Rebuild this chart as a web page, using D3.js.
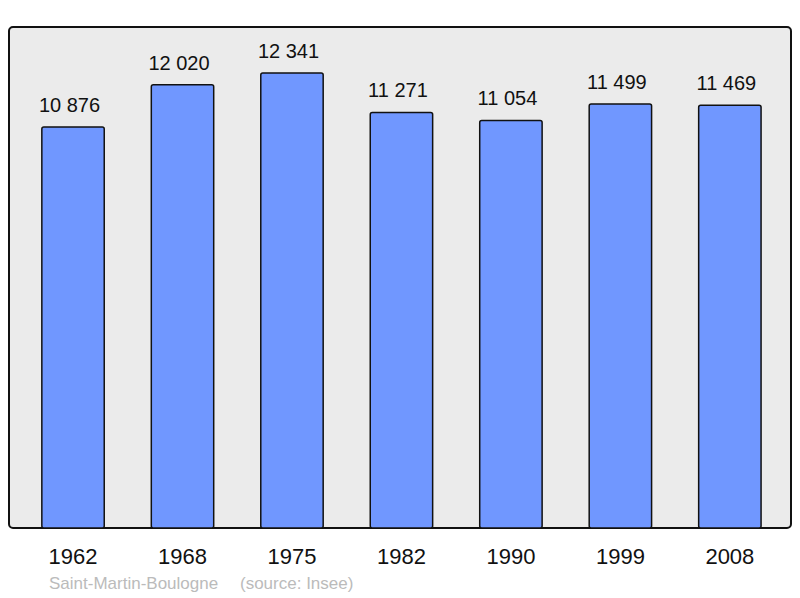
<!DOCTYPE html>
<html><head><meta charset="utf-8">
<script src="https://cdn.jsdelivr.net/npm/d3@7/dist/d3.min.js"></script>
<style>html,body{margin:0;padding:0;background:#fff;}svg{display:block;}</style>
</head><body>
<script>
const years = ["1962","1968","1975","1982","1990","1999","2008"];
const population = [10876, 12020, 12341, 11271, 11054, 11499, 11469];
const townName = "Saint-Martin-Boulogne";
const sourceNote = "(source: Insee)";

const W = 800, H = 598;
const svg = d3.select("body").append("svg").attr("width", W).attr("height", H);

const frame = {x0: 9, y0: 27, x1: 791, y1: 528};
svg.append("rect")
  .attr("x", frame.x0).attr("y", frame.y0)
  .attr("width", frame.x1 - frame.x0).attr("height", frame.y1 - frame.y0)
  .attr("rx", 4).attr("ry", 4)
  .attr("fill", "#ebebeb").attr("stroke", "#111").attr("stroke-width", 2);

const x = d3.scaleBand().domain(years).range([18.3, 784.6]).paddingInner(0.43).paddingOuter(0.215);
const y = d3.scaleLinear().domain([0, 13588]).range([frame.y1, frame.y0]);

const fmt = v => d3.format(",")(v).replace(/,/g, " ");

svg.selectAll("rect.bar").data(years).enter().append("rect")
  .attr("class", "bar")
  .attr("x", d => x(d)).attr("width", x.bandwidth())
  .attr("y", (d, i) => y(population[i]))
  .attr("height", (d, i) => y(0) - y(population[i]))
  .attr("rx", 2).attr("ry", 2)
  .attr("fill", "#7097ff").attr("stroke", "#111").attr("stroke-width", 1.5);

svg.selectAll("text.val").data(years).enter().append("text")
  .attr("class", "val")
  .attr("x", d => x(d) + x.bandwidth() / 2 - 3.5)
  .attr("y", (d, i) => y(population[i]) - 15)
  .attr("text-anchor", "middle")
  .attr("font-family", "Liberation Sans, Arial, sans-serif")
  .attr("font-size", 20).attr("fill", "#111")
  .text((d, i) => fmt(population[i]));

const xAxis = d3.axisBottom(x).tickSize(0).tickPadding(0);
const ax = svg.append("g").attr("transform", `translate(0,${frame.y1})`).call(xAxis);
ax.select(".domain").remove();
ax.selectAll("text")
  .attr("y", 36).attr("dy", null)
  .attr("font-family", "Liberation Sans, Arial, sans-serif")
  .attr("font-size", 22).attr("fill", "#111");

svg.append("text").attr("x", 49).attr("y", 589)
  .attr("font-family", "Liberation Sans, Arial, sans-serif")
  .attr("font-size", 17).attr("fill", "#bbbbbb").text(townName);
svg.append("text").attr("x", 240).attr("y", 589)
  .attr("font-family", "Liberation Sans, Arial, sans-serif")
  .attr("font-size", 17).attr("fill", "#bbbbbb").text(sourceNote);
</script>
</body></html>
